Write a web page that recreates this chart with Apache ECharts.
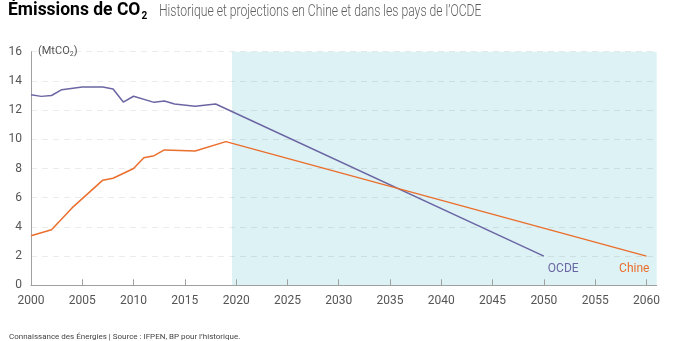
<!DOCTYPE html>
<html>
<head>
<meta charset="utf-8">
<script src="https://cdn.jsdelivr.net/npm/echarts@6/dist/echarts.min.js"></script>
<style>
  html, body { margin: 0; padding: 0; background: #fff; }
  #chart { width: 700px; height: 341px; }
</style>
</head>
<body>
<div id="chart"></div>
<script>
// CO2 emissions (MtCO2 as labelled) – historical data then straight projection to neutrality
const ocdeYears  = [2000, 2001, 2002, 2003, 2005, 2007, 2008, 2009, 2010, 2012, 2013, 2014, 2016, 2018, 2050];
const ocdeValues = [13.05, 12.94, 13.0, 13.4, 13.58, 13.58, 13.45, 12.55, 12.95, 12.53, 12.62, 12.42, 12.26, 12.42, 2.0];

const chineYears  = [2000, 2002, 2004, 2007, 2008, 2010, 2011, 2012, 2013, 2016, 2019, 2060];
const chineValues = [3.4, 3.81, 5.3, 7.2, 7.33, 8.0, 8.74, 8.88, 9.27, 9.2, 9.84, 2.0];

const yTicks = [0, 2, 4, 6, 8, 10, 12, 14, 16];
const xTickYears = [2000, 2005, 2010, 2015, 2020, 2025, 2030, 2035, 2040, 2045, 2050, 2055, 2060];

const projectionStart = 2019.6;
const projectionEnd = 2061;

const purple = '#6b66a3';
const orange = '#ea6f2d';

const titleBold = 'Émissions de CO';
const titleRest = 'Historique et projections en Chine et dans les pays de l’OCDE';
const sourceText = 'Connaissance des Énergies | Source : IFPEN, BP pour l’historique.';

function pairs(xs, ys) { return xs.map((x, i) => [x, ys[i]]); }

const chart = echarts.init(document.getElementById('chart'), null, { renderer: 'canvas' });

chart.setOption({
  animation: false,
  backgroundColor: '#ffffff',
  textStyle: { fontFamily: 'Roboto' },
  grid: { left: 31, right: 43.3, top: 51.7, bottom: 55.7, containLabel: false },
  graphic: [
    {
      type: 'text', left: 8, top: 2,
      style: {
        text: '{b|' + titleBold + '}{s|2}',
        rich: {
          b: { fontFamily: 'Roboto', fontWeight: 'bold', fontSize: 17.5, color: '#4d4d4d' },
          s: { fontFamily: 'Roboto', fontWeight: 'bold', fontSize: 10, color: '#4d4d4d', padding: [11, 0, 0, 1] }
        }
      }
    },
    {
      // condensed look for the subtitle
      type: 'text', x: 159, y: 12, scaleX: 0.715, scaleY: 1,
      style: {
        x: 0, y: 0, text: titleRest, verticalAlign: 'middle',
        fontFamily: 'Roboto', fontWeight: 300, fontSize: 17, fill: '#5e5e5e'
      }
    },
    {
      type: 'text', left: 38, top: 46,
      style: {
        text: '(MtCO{s|2})',
        fontFamily: 'Roboto', fontSize: 11, fill: '#555',
        rich: { s: { fontFamily: 'Roboto', fontSize: 7, color: '#555', padding: [6, 0, 0, 0] } }
      }
    },
    {
      type: 'text', x: 9, y: 337,
      style: {
        x: 0, y: 0, text: sourceText, verticalAlign: 'middle',
        fontFamily: 'Roboto', fontSize: 8, fill: '#444'
      }
    }
  ],
  xAxis: {
    type: 'value', min: 2000, max: projectionEnd, interval: 5, z: 3,
    axisLine: { show: true, lineStyle: { color: '#a0a0a0', width: 1 } },
    axisTick: { show: true, inside: true, length: 6, lineStyle: { color: '#a0a0a0' } },
    axisLabel: {
      color: '#555', fontSize: 12, margin: 10, showMaxLabel: false,
      formatter: v => xTickYears.includes(v) ? String(v) : ''
    },
    splitLine: { show: false }
  },
  yAxis: {
    type: 'value', min: 0, max: 16, interval: 2, z: 3,
    axisLine: { show: true, lineStyle: { color: '#a0a0a0', width: 1 } },
    axisTick: { show: false },
    axisLabel: {
      color: '#555', fontSize: 12, margin: 9,
      formatter: v => yTicks.includes(v) ? String(v) : ''
    },
    splitLine: { show: true, lineStyle: { color: 'rgba(0,0,0,0.08)', type: [6, 5], width: 1 } }
  },
  series: [
    {
      type: 'line', data: [], z: 1, silent: true,
      markArea: {
        silent: true,
        itemStyle: { color: '#ddf2f5' },
        data: [[{ xAxis: projectionStart }, { xAxis: projectionEnd }]]
      }
    },
    {
      name: 'OCDE', type: 'line', z: 5, symbol: 'none',
      lineStyle: { color: purple, width: 1.5 },
      endLabel: {
        show: true, formatter: 'OCDE', color: purple, fontSize: 12,
        align: 'left', verticalAlign: 'top', distance: 0, offset: [4, 7]
      },
      data: pairs(ocdeYears, ocdeValues)
    },
    {
      name: 'Chine', type: 'line', z: 5, symbol: 'none',
      lineStyle: { color: orange, width: 1.5 },
      endLabel: {
        show: true, formatter: 'Chine', color: orange, fontSize: 12,
        align: 'right', verticalAlign: 'top', distance: 0, offset: [3, 7]
      },
      data: pairs(chineYears, chineValues)
    }
  ]
});
</script>
</body>
</html>
